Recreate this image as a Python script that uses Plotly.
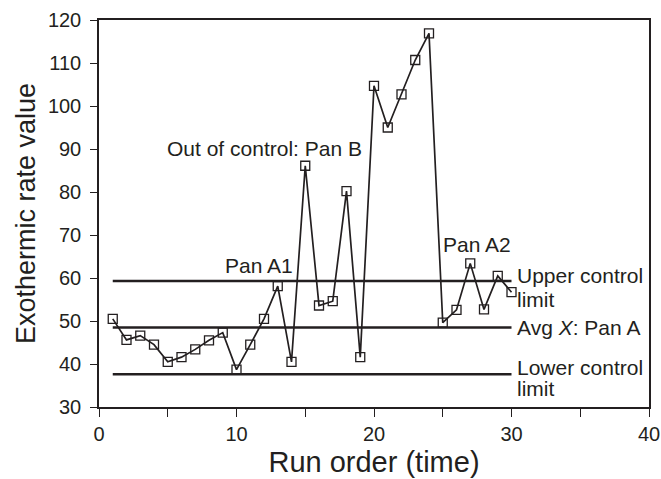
import plotly.graph_objects as go

# Run order and measured exothermic rate values
run_order = list(range(1, 31))
rate_values = [50.5, 45.6, 46.6, 44.5, 40.5, 41.6, 43.4, 45.5, 47.3, 38.7,
               44.5, 50.5, 58.1, 40.5, 86.1, 53.6, 54.6, 80.2, 41.6, 104.7,
               95.0, 102.7, 110.7, 116.9, 49.6, 52.6, 63.4, 52.7, 60.5, 56.7]

# Control chart reference levels
limit_start, limit_end = 1, 30
upper_limit = 59.3
average_x = 48.5
lower_limit = 37.6

FONT = "Liberation Sans, Arial, sans-serif"
INK = "#231f20"

fig = go.Figure()

for level in (upper_limit, average_x, lower_limit):
    fig.add_trace(go.Scatter(
        x=[limit_start, limit_end], y=[level, level], mode="lines",
        line=dict(color=INK, width=2.6), hoverinfo="skip", showlegend=False))

fig.add_trace(go.Scatter(
    x=run_order, y=rate_values, mode="lines+markers",
    line=dict(color=INK, width=1.7),
    marker=dict(symbol="square-open", size=9, color=INK, line=dict(width=1.3)),
    showlegend=False))

# Text labels: (x, y, text, xanchor)
labels = [
    (19.25, 90.2, "Out of control: Pan B", "right"),
    (11.6, 62.9, "Pan A1", "center"),
    (27.5, 67.7, "Pan A2", "center"),
    (30.25, 60.5, "Upper control", "left"),
    (30.25, 54.9, "limit", "left"),
    (30.25, 48.5, "Avg <i>X</i>: Pan A", "left"),
    (30.25, 39.3, "Lower control", "left"),
    (30.25, 34.2, "limit", "left"),
]
for x, y, text, xa in labels:
    fig.add_annotation(x=x, y=y, text=text, xanchor=xa, yanchor="middle",
                       showarrow=False, font=dict(family=FONT, size=21, color=INK))

axis_common = dict(
    showline=True, linecolor=INK, linewidth=1.5, mirror=True,
    ticks="outside", tickwidth=1.3, tickcolor=INK,
    showgrid=False, zeroline=False, automargin=False,
    tickfont=dict(family=FONT, size=20, color=INK),
)

fig.update_xaxes(range=[0, 40], dtick=10, tick0=0, ticklen=8, ticklabelstandoff=0,
                 minor=dict(dtick=5, ticks="outside", ticklen=8, tickwidth=1.3, tickcolor=INK),
                 title=dict(text="Run order (time)", font=dict(family=FONT, size=29, color=INK),
                            standoff=8),
                 **axis_common)
fig.update_yaxes(range=[30, 120], dtick=10, tick0=30, ticklen=7, ticklabelstandoff=5,
                 title=dict(text="Exothermic rate value", font=dict(family=FONT, size=27, color=INK),
                            standoff=4),
                 **axis_common)

fig.update_layout(
    width=661, height=479,
    margin=dict(l=99, r=12, t=20, b=72),
    plot_bgcolor="white", paper_bgcolor="white",
)

fig.write_html("out.html")
